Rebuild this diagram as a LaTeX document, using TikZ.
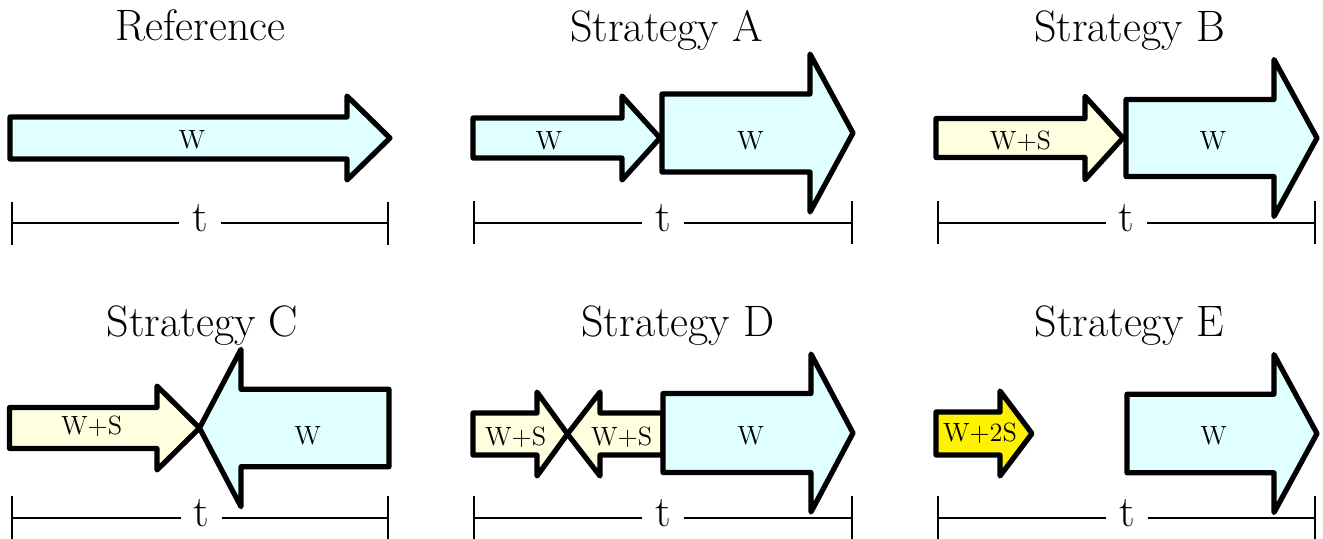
\documentclass[tikz,border=0pt]{standalone}
\usetikzlibrary{arrows.meta}

\definecolor{workcyan}{RGB}{224,255,255}
\definecolor{worksun}{RGB}{255,255,224}

% style, tail x, head base x, tip x, mid y, shaft half width, head half width
\newcommand{\blockarrow}[7]{%
    \draw[block,#1] (#2,{#5-#6}) -- (#3,{#5-#6}) -- (#3,{#5-#7}) -- (#4,#5)
        -- (#3,{#5+#7}) -- (#3,{#5+#6}) -- (#2,{#5+#6}) -- cycle;}

\begin{document}
\begin{tikzpicture}[x=0.5pt,y=-0.5pt,
        block/.style={line width=2.6pt,line join=round},
        wfill/.style={fill=workcyan},
        wsfill/.style={fill=worksun},
        wssfill/.style={fill=yellow},
        heading/.style={anchor=base,font=\fontsize{22}{26}\selectfont},
        lbl/.style={font=\fontsize{13.2}{16}\selectfont,inner sep=0pt,text depth=0pt},
        tlab/.style={font=\fontsize{22}{26}\selectfont,inner xsep=6.2pt,inner ysep=0pt,text height=13.5pt,text depth=4.8pt},
        lspan/.style={line width=1pt,{Bar[width=21.5pt]}-},
        rspan/.style={line width=1pt,-{Bar[width=21.5pt]}}]
    \useasboundingbox (0,0) rectangle (1323,538);

    % titles
    \node[heading] (hRef) at (200.5,40) {Reference};
    \node[heading] (hA) at (666.5,41) {Strategy A};
    \node[heading] (hB) at (1129.5,41) {Strategy B};
    \node[heading] (hC) at (202.5,336.5) {Strategy C};
    \node[heading] (hD) at (678,336.5) {Strategy D};
    \node[heading] (hE) at (1129.5,336.5) {Strategy E};

    % arrows
    \blockarrow{wfill}{10}{347}{390}{138}{21}{42}
    \blockarrow{wfill}{473}{622}{660}{138}{20}{42}
    \blockarrow{wfill}{662}{810}{853}{133}{39}{79}
    \blockarrow{wsfill}{936}{1085}{1123}{138}{19.5}{41.7}
    \blockarrow{wfill}{1126}{1274}{1317}{138}{38.5}{78.5}
    \blockarrow{wsfill}{9.5}{157}{199.5}{428}{20.5}{42}
    \blockarrow{wfill}{389}{241}{199.5}{428}{38.7}{78.7}
    \blockarrow{wsfill}{473}{537}{567.5}{434}{21}{42}
    \blockarrow{wsfill}{663}{600}{567.5}{434}{21}{42}
    \blockarrow{wfill}{663}{811}{853}{433}{39.5}{79}
    \blockarrow{wssfill}{936}{1000}{1032}{433.5}{21.5}{42.5}
    \blockarrow{wfill}{1127}{1274}{1317}{433.5}{39.3}{79}

    % labels
    \node[lbl] (refW) at (192,139) {W};
    \node[lbl] (aW1) at (549,140.5) {W};
    \node[lbl] (aW2) at (750.5,140.5) {W};
    \node[lbl] (bWS) at (1020.5,140) {W+S};
    \node[lbl] (bW) at (1213,140) {W};
    \node[lbl] (cWS) at (91.7,425) {W+S};
    \node[lbl] (cW) at (307.7,435.7) {W};
    \node[lbl] (dWS1) at (515.7,435.7) {W+S};
    \node[lbl] (dWS2) at (621.7,435.7) {W+S};
    \node[lbl] (dW) at (750.7,435.7) {W};
    \node[lbl] (eW2S) at (980,432) {W+2S};
    \node[lbl] (eW) at (1213.7,435.3) {W};

    % time spans
    \coordinate (refL) at (10.5,223);
    \coordinate (refR) at (389,223);
    \node[tlab] (refT) at (200,223) {t};
    \coordinate (aL) at (473.3,222.7);
    \coordinate (aR) at (852.7,222.7);
    \node[tlab] (aT) at (663,222.7) {t};
    \coordinate (bL) at (936.7,222.7);
    \coordinate (bR) at (1316,222.7);
    \node[tlab] (bT) at (1126.5,222.7) {t};
    \coordinate (cL) at (10.7,517.5);
    \coordinate (cR) at (389,517.5);
    \node[tlab] (cT) at (201.5,517.5) {t};
    \coordinate (dL) at (473.3,517.7);
    \coordinate (dR) at (852.7,517.7);
    \node[tlab] (dT) at (663,517.7) {t};
    \coordinate (eL) at (936.7,517.7);
    \coordinate (eR) at (1316,517.7);
    \node[tlab] (eT) at (1127,517.7) {t};

    \draw[lspan] (refL) -- (refT);
    \draw[rspan] (refT) -- (refR);
    \draw[lspan] (aL) -- (aT);
    \draw[rspan] (aT) -- (aR);
    \draw[lspan] (bL) -- (bT);
    \draw[rspan] (bT) -- (bR);
    \draw[lspan] (cL) -- (cT);
    \draw[rspan] (cT) -- (cR);
    \draw[lspan] (dL) -- (dT);
    \draw[rspan] (dT) -- (dR);
    \draw[lspan] (eL) -- (eT);
    \draw[rspan] (eT) -- (eR);
\end{tikzpicture}
\end{document}
